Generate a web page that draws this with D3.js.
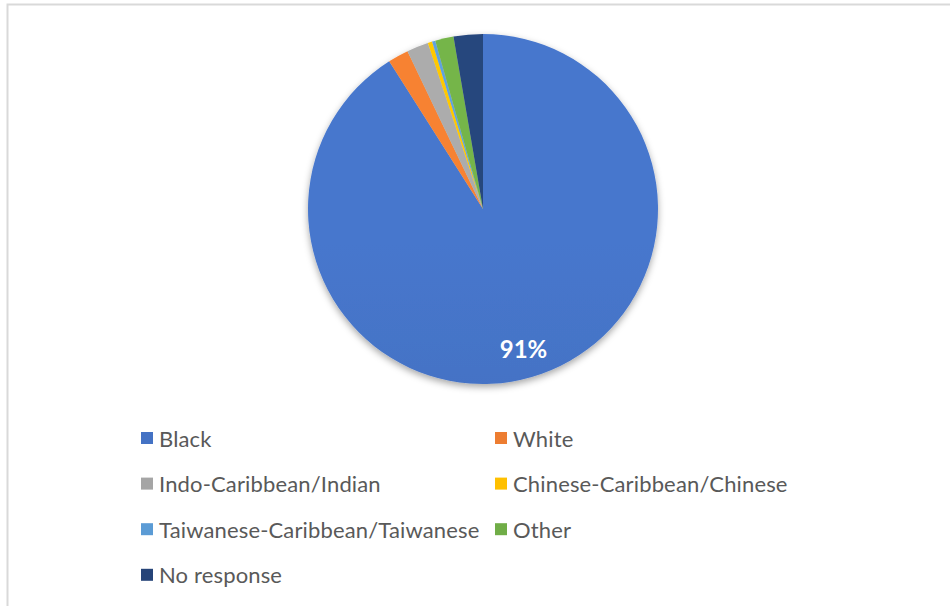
<!DOCTYPE html>
<html>
<head>
<meta charset="utf-8">
<script src="https://cdn.jsdelivr.net/npm/d3@7"></script>
<style>
  html, body { margin: 0; padding: 0; background: #fff; }
  svg { display: block; }
</style>
</head>
<body>
<svg id="chart" width="950" height="606"></svg>
<script>
// Respondent ethnicity shares (percent), clockwise from 12 o'clock
const categories = [
  "Black",
  "White",
  "Indo-Caribbean/Indian",
  "Chinese-Caribbean/Chinese",
  "Taiwanese-Caribbean/Taiwanese",
  "Other",
  "No response"
];
const shares = [91, 1.9, 2.0, 0.4, 0.3, 1.7, 2.7];
const sliceColors = ["#4472C4", "#ED7D31", "#A5A5A5", "#FFC000", "#5B9BD5", "#70AD47", "#264478"];
// Only the dominant slice carries a data label
const labelled = ["Black"];

const data = categories.map((c, i) => ({ name: c, value: shares[i], color: sliceColors[i] }));

const svg = d3.select("#chart");
const W = 950, H = 606;
const cx = 483, cy = 209, R = 175;

// Chart area frame (only top and left edges fall inside the view)
svg.append("rect")
  .attr("x", 7.5).attr("y", 4.5)
  .attr("width", W + 20).attr("height", H + 20)
  .attr("fill", "#fff")
  .attr("stroke", "#d9d9d9")
  .attr("stroke-width", 2);

const defs = svg.append("defs");

// Soft outer shadow under the pie
const shadow = defs.append("filter")
  .attr("id", "pieShadow")
  .attr("x", "-20%").attr("y", "-20%")
  .attr("width", "140%").attr("height", "140%");
shadow.append("feDropShadow")
  .attr("dx", 0).attr("dy", 3)
  .attr("stdDeviation", 3.5)
  .attr("flood-color", "#000")
  .attr("flood-opacity", 0.35);

// Vertical shading for each slice colour: lighter at the top, deeper at the bottom
data.forEach((d, i) => {
  const base = d3.color(d.color);
  const g = defs.append("linearGradient")
    .attr("id", "grad" + i)
    .attr("gradientUnits", "userSpaceOnUse")
    .attr("x1", 0).attr("y1", cy - R)
    .attr("x2", 0).attr("y2", cy + R);
  g.append("stop").attr("offset", "0%").attr("stop-color", base.brighter(0.12).formatHex());
  g.append("stop").attr("offset", "100%").attr("stop-color", base.darker(0.15).formatHex());
});

const pie = d3.pie().value(d => d.value).sort(null);
const arcs = pie(data);
const arc = d3.arc().innerRadius(0).outerRadius(R);
const labelArc = d3.arc().innerRadius(R * 0.83).outerRadius(R * 0.83);

const g = svg.append("g")
  .attr("transform", `translate(${cx},${cy})`);

g.append("g")
  .attr("filter", "url(#pieShadow)")
  .selectAll("path")
  .data(arcs)
  .join("path")
  .attr("d", arc)
  .attr("fill", (d, i) => `url(#grad${i})`);

g.selectAll("text.val")
  .data(arcs.filter(d => labelled.includes(d.data.name)))
  .join("text")
  .attr("class", "val")
  .attr("transform", d => `translate(${labelArc.centroid(d)})`)
  .attr("text-anchor", "middle")
  .attr("dominant-baseline", "central")
  .attr("fill", "#fff")
  .attr("font-family", "Lato, 'Open Sans', sans-serif")
  .attr("font-weight", 700)
  .attr("font-size", 24)
  .text(d => d3.format(".0f")(d.data.value) + "%");

// Two-column legend beneath the pie
const colX = [141, 495];
const rowY0 = 438, rowStep = 45.6;
const legend = svg.append("g");
const items = legend.selectAll("g.item")
  .data(data)
  .join("g")
  .attr("class", "item")
  .attr("transform", (d, i) => `translate(${colX[i % 2]},${rowY0 + Math.floor(i / 2) * rowStep})`);

items.append("rect")
  .attr("x", 0).attr("y", -6)
  .attr("width", 12).attr("height", 12)
  .attr("fill", d => d.color);

items.append("text")
  .attr("x", 18)
  .attr("y", 0)
  .attr("dominant-baseline", "central")
  .attr("fill", "#595959")
  .attr("font-family", "Lato, 'Open Sans', sans-serif")
  .attr("font-size", 22)
  .attr("letter-spacing", 0.15)
  .text(d => d.name);
</script>
</body>
</html>
